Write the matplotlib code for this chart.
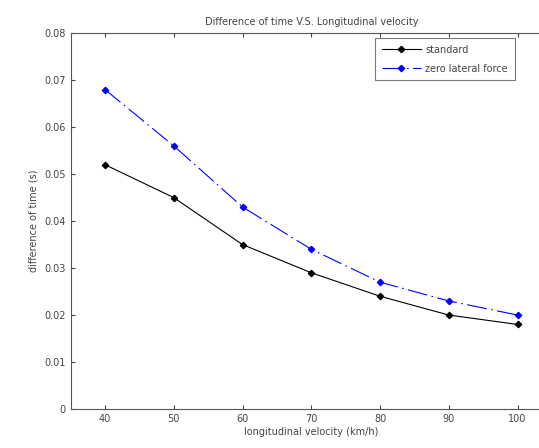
import matplotlib
matplotlib.use("Agg")
import matplotlib.pyplot as plt

# velocity sweep and time differences for both models
velocity = [40, 50, 60, 70, 80, 90, 100]
standard = [0.052, 0.045, 0.035, 0.029, 0.024, 0.020, 0.018]
zero_lateral = [0.068, 0.056, 0.043, 0.034, 0.027, 0.023, 0.020]
yticks = [0, 0.01, 0.02, 0.03, 0.04, 0.05, 0.06, 0.07, 0.08]
ytick_labels = ["0", "0.01", "0.02", "0.03", "0.04", "0.05", "0.06", "0.07", "0.08"]

plt.rcParams["font.family"] = "DejaVu Sans"
fig = plt.figure(figsize=(5.39, 4.48), dpi=100)
ax = fig.add_axes([0.131, 0.087, 0.893, 0.839])

ax.plot(velocity, standard, "-", color="black", marker="D", markersize=3.2,
        linewidth=0.8, label="standard")
ax.plot(velocity, zero_lateral, linestyle=(0, (18, 4, 1.5, 4)), color="blue",
        marker="D", markersize=3.2, linewidth=0.8, label="zero lateral force")

ax.set_xlim(35, 105)
ax.set_ylim(0, 0.08)
ax.set_xticks(velocity)
ax.set_yticks(yticks)
ax.set_yticklabels(ytick_labels)
ax.tick_params(direction="in", top=True, right=True, labelsize=7,
               colors="#444444", length=3, width=0.8)
for s in ax.spines.values():
    s.set_color("#555555")
    s.set_linewidth(0.8)

ax.set_title("Difference of time V.S. Longitudinal velocity", fontsize=7,
             color="#444444", pad=6)
ax.set_xlabel("longitudinal velocity (km/h)", fontsize=7, color="#444444", labelpad=2)
ax.set_ylabel("difference of time (s)", fontsize=7, color="#444444", labelpad=4)

leg = ax.legend(loc="upper left", bbox_to_anchor=(0.632, 0.987), fontsize=7,
                frameon=True, fancybox=False, borderaxespad=0.0,
                handlelength=4.0, handletextpad=0.5, labelspacing=0.9,
                borderpad=0.7)
leg.get_frame().set_edgecolor("#555555")
leg.get_frame().set_linewidth(0.8)
for t in leg.get_texts():
    t.set_color("#444444")

fig.savefig("out.png", dpi=100)
